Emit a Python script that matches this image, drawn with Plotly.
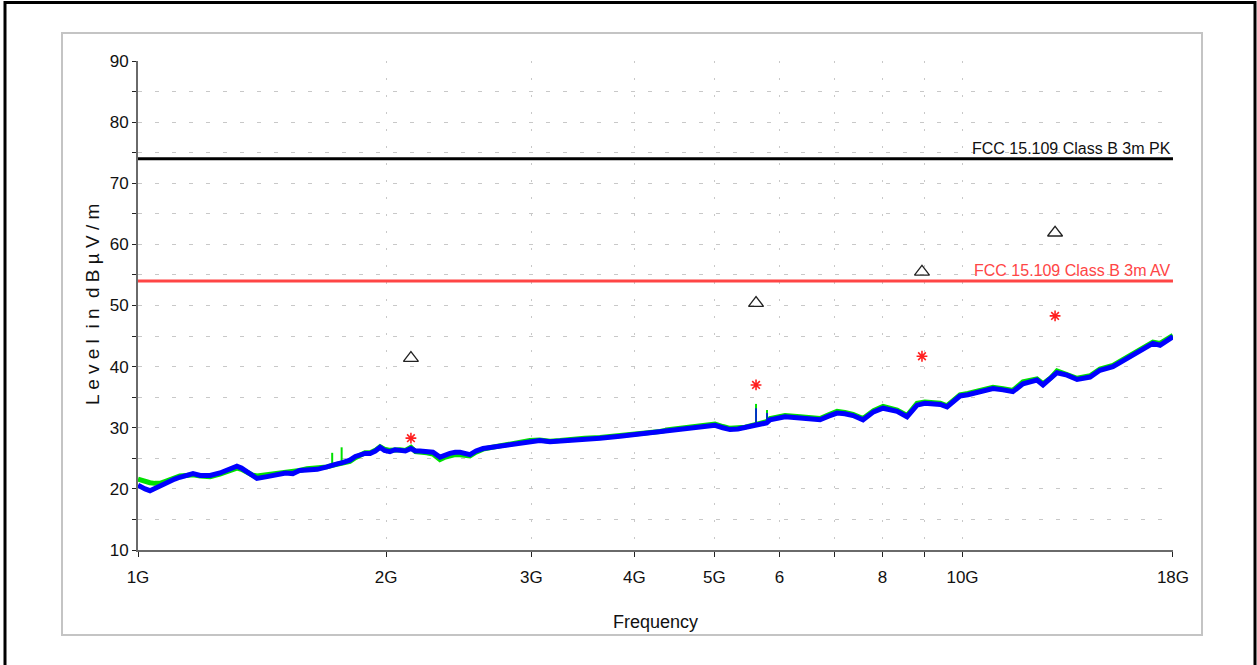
import plotly.graph_objects as go

# ---------------- data ----------------
freq_ghz = [1.000, 1.010, 1.020, 1.034, 1.048, 1.063, 1.078, 1.093, 1.108, 1.124,
            1.145, 1.166, 1.190, 1.223, 1.257, 1.290, 1.318, 1.335, 1.356, 1.375,
            1.394, 1.434, 1.474, 1.510, 1.541, 1.570, 1.603, 1.650, 1.695, 1.716,
            1.744, 1.770, 1.807, 1.835, 1.859, 1.885,
            1.912, 1.940, 1.966, 1.990, 2.021, 2.050, 2.079, 2.110, 2.143, 2.170,
            2.198, 2.240, 2.279, 2.324, 2.360, 2.390, 2.425, 2.458, 2.527, 2.570,
            2.621, 2.710, 2.827, 2.900, 2.988, 3.070, 3.160, 3.250, 3.342, 3.480,
            3.634, 3.842, 3.950, 4.063, 4.180, 4.297, 4.420, 4.544, 4.680, 4.804,
            5.010, 5.120, 5.224, 5.340, 5.448, 5.602, 5.700,
            5.786, 5.842, 5.950, 6.092, 6.353, 6.550, 6.718, 6.880,
            7.045, 7.200, 7.366, 7.574, 7.800, 8.010, 8.160, 8.330, 8.565, 8.700,
            8.808, 9.000, 9.210, 9.400, 9.577, 9.750, 9.930, 10.15, 10.41, 10.65,
            10.89, 11.20, 11.51, 11.84, 12.31, 12.52, 12.80, 13.02, 13.39, 13.77,
            14.28, 14.68, 15.22, 15.50, 15.83, 16.10, 16.42, 16.70, 17.02, 17.36,
            17.70, 18.00]

average_dbuv = [20.6, 20.2, 20.0, 19.7, 20.1, 20.3, 20.8, 21.3, 21.6, 21.9,
                22.3, 22.5, 22.2, 22.2, 22.6, 23.2, 23.7, 23.4, 22.8, 22.1,
                21.7, 22.0, 22.3, 22.6, 22.5, 23.0, 23.1, 23.2, 23.6, 23.9,
                24.1, 24.3, 24.7, 25.3, 25.5, 25.8,
                25.8, 26.2, 26.8, 26.3, 26.1, 26.4, 26.3, 26.2, 26.6, 26.2,
                26.2, 26.1, 26.0, 25.2, 25.6, 25.8, 26.0, 26.0, 25.6, 26.2,
                26.6, 26.9, 27.3, 27.5, 27.8, 27.9, 27.7, 27.8, 27.9, 28.2,
                28.3, 28.6, 28.8, 29.0, 29.1, 29.3, 29.6, 29.8, 30.0, 30.2,
                30.4, 30.0, 29.7, 29.8, 30.0, 30.3, 30.5,
                30.8, 31.3, 31.6, 31.8, 31.6, 31.4, 31.3, 31.9,
                32.4, 32.3, 32.0, 31.3, 32.6, 33.2, 33.0, 32.7, 31.8, 33.0,
                33.7, 34.0, 34.0, 33.8, 33.4, 34.3, 35.2, 35.4, 35.7, 36.0,
                36.4, 36.2, 35.9, 37.2, 37.8, 37.0, 38.0, 39.0, 38.6, 37.9,
                38.3, 39.4, 40.0, 40.6, 41.5, 42.0, 42.6, 43.2, 43.8, 43.5,
                44.3, 44.9]

peak_dbuv = [21.6, 21.4, 21.1, 21.0, 20.9, 20.9, 21.2, 21.5, 21.9, 22.1,
             22.2, 22.3, 22.1, 22.0, 22.4, 23.0, 23.4, 23.2, 22.7, 22.3,
             22.1, 22.3, 22.5, 22.7, 22.7, 23.0, 23.3, 23.4, 23.6, 23.8,
             24.0, 24.2, 24.5, 25.1, 25.4, 25.9,
             25.9, 26.3, 26.9, 26.5, 26.3, 26.4, 26.4, 26.3, 26.8, 26.1,
             26.1, 25.9, 25.7, 24.8, 25.2, 25.4, 25.6, 25.6, 25.4, 26.0,
             26.5, 26.9, 27.4, 27.6, 27.9, 28.0, 27.8, 27.9, 28.1, 28.3,
             28.4, 28.7, 28.9, 29.1, 29.2, 29.4, 29.7, 29.9, 30.1, 30.3,
             30.6, 30.2, 29.9, 30.0, 30.1, 30.5, 30.7,
             31.0, 31.5, 31.8, 32.0, 31.8, 31.6, 31.5, 32.1,
             32.7, 32.5, 32.2, 31.5, 32.8, 33.5, 33.2, 32.9, 32.0, 33.2,
             34.0, 34.2, 34.2, 34.0, 33.6, 34.5, 35.4, 35.6, 35.9, 36.2,
             36.6, 36.4, 36.1, 37.5, 38.0, 37.2, 38.2, 39.3, 38.8, 38.1,
             38.5, 39.6, 40.2, 40.8, 41.7, 42.2, 42.8, 43.4, 44.0, 43.8,
             44.5, 45.1]

# narrow spikes in the traces (frequency, base level, top level)
peak_spike_freq_ghz = [1.720, 1.766, 5.618, 5.793]
peak_spike_base_dbuv = [24.0, 24.3, 30.5, 31.0]
peak_spike_top_dbuv = [25.9, 26.8, 33.9, 32.9]
avg_spike_freq_ghz = [5.618, 5.793]
avg_spike_base_dbuv = [30.4, 30.9]
avg_spike_top_dbuv = [33.2, 32.4]

limit_freq_ghz = [1.0, 18.0]
limit_pk_dbuv = [74.0, 74.0]
limit_av_dbuv = [54.0, 54.0]

final_freq_ghz = [2.143, 5.618, 8.93, 12.95]
final_pk_dbuv = [41.4, 50.4, 55.5, 61.9]
final_av_dbuv = [28.3, 37.0, 41.7, 48.3]

x_tickvals = [1, 2, 3, 4, 5, 6, 7, 8, 9, 10, 18]
x_ticktext = ["1G", "2G", "3G", "4G", "5G", "6", "", "8", "", "10G", "18G"]
y_tickvals = [10, 20, 30, 40, 50, 60, 70, 80, 90]

FONT = "Liberation Sans, Arial, sans-serif"


def spike_xy(freqs, bases, tops):
    xs, ys = [], []
    for f, b, t in zip(freqs, bases, tops):
        xs += [f, f, None]
        ys += [b, t, None]
    return xs, ys


# ---------------- figure ----------------
fig = go.Figure()

sx, sy = spike_xy(peak_spike_freq_ghz, peak_spike_base_dbuv, peak_spike_top_dbuv)
fig.add_trace(go.Scatter(x=sx, y=sy, mode="lines",
                         line=dict(color="#00e000", width=2), hoverinfo="skip"))
fig.add_trace(go.Scatter(x=freq_ghz, y=peak_dbuv, mode="lines",
                         line=dict(color="#00e000", width=5), hoverinfo="skip"))
fig.add_trace(go.Scatter(x=freq_ghz, y=average_dbuv, mode="lines",
                         line=dict(color="#0000ff", width=5), hoverinfo="skip"))
sx, sy = spike_xy(avg_spike_freq_ghz, avg_spike_base_dbuv, avg_spike_top_dbuv)
fig.add_trace(go.Scatter(x=sx, y=sy, mode="lines",
                         line=dict(color="#0000ff", width=1.5), hoverinfo="skip"))
fig.add_trace(go.Scatter(x=limit_freq_ghz, y=limit_pk_dbuv, mode="lines",
                         line=dict(color="#000000", width=3)))
fig.add_trace(go.Scatter(x=limit_freq_ghz, y=limit_av_dbuv, mode="lines",
                         line=dict(color="#ff4545", width=3)))
fig.add_trace(go.Scatter(x=final_freq_ghz, y=final_pk_dbuv, mode="markers",
                         marker=dict(symbol="triangle-up-open", size=13,
                                     color="#222222", line=dict(width=1.3, color="#222222"))))
fig.add_trace(go.Scatter(x=final_freq_ghz, y=final_av_dbuv, mode="markers",
                         marker=dict(symbol="asterisk-open", size=9,
                                     color="#ff2020", line=dict(width=1.6, color="#ff2020"))))

W, H = 1257, 665
L, R, T, B = 138, 1173, 61, 550
pw, ph = R - L, B - T


def px(x):
    return (x - L) / pw


def py(y):
    return (B - y) / ph


fig.add_annotation(x=1, y=74, xref="paper", yref="y", text="FCC 15.109 Class B 3m PK",
                   showarrow=False, xanchor="right", yanchor="bottom", yshift=0,
                   font=dict(family=FONT, size=16, color="#111111"))
fig.add_annotation(x=1, y=54, xref="paper", yref="y", text="FCC 15.109 Class B 3m AV",
                   showarrow=False, xanchor="right", yanchor="bottom", yshift=0,
                   font=dict(family=FONT, size=16, color="#ff4545"))

fig.add_annotation(x=0.5, y=py(622), xref="paper", yref="paper", text="Frequency",
                   showarrow=False, xanchor="center", yanchor="middle",
                   font=dict(family=FONT, size=18, color="#111111"))
fig.add_annotation(x=px(92), y=py(305), xref="paper", yref="paper",
                   text="L e v e l  i n  d B µ V / m", textangle=-90,
                   showarrow=False, xanchor="center", yanchor="middle",
                   font=dict(family=FONT, size=19, color="#111111"))

# frames
fig.add_shape(type="rect", xref="paper", yref="paper",
              x0=px(62), x1=px(1202), y0=py(635), y1=py(33),
              line=dict(color="#c4c4c4", width=2), layer="below")
fig.add_shape(type="rect", xref="paper", yref="paper",
              x0=px(5), x1=px(1255), y0=py(668), y1=py(2.5),
              line=dict(color="#000000", width=3), layer="below")

fig.update_layout(
    width=W, height=H,
    margin=dict(l=L, r=W - R, t=T, b=H - B, pad=0),
    paper_bgcolor="white", plot_bgcolor="white",
    showlegend=False,
    font=dict(family=FONT, size=17, color="#111111"),
)

fig.update_xaxes(type="log", range=[0, 1.2553], tickvals=x_tickvals, ticktext=x_ticktext,
                 showline=True, linecolor="#6a6a6a", linewidth=2,
                 ticks="outside", ticklen=5, tickcolor="#222222", tickwidth=1,
                 ticklabelstandoff=6,
                 showgrid=True, gridcolor="#c8c8c8", gridwidth=1, griddash="2px,15px",
                 zeroline=False, tickfont=dict(family=FONT, size=17, color="#111111"))
fig.update_yaxes(range=[10, 90], tickvals=y_tickvals,
                 showline=True, linecolor="#6a6a6a", linewidth=2,
                 ticks="outside", ticklen=4, tickcolor="#222222", tickwidth=1,
                 showgrid=True, gridcolor="#c8c8c8", gridwidth=1, griddash="4px,13px",
                 minor=dict(dtick=5, ticks="outside", ticklen=4, tickcolor="#222222",
                            showgrid=True, gridcolor="#c8c8c8", griddash="4px,13px"),
                 zeroline=False, tickfont=dict(family=FONT, size=17, color="#111111"))

fig.write_html("out.html")
